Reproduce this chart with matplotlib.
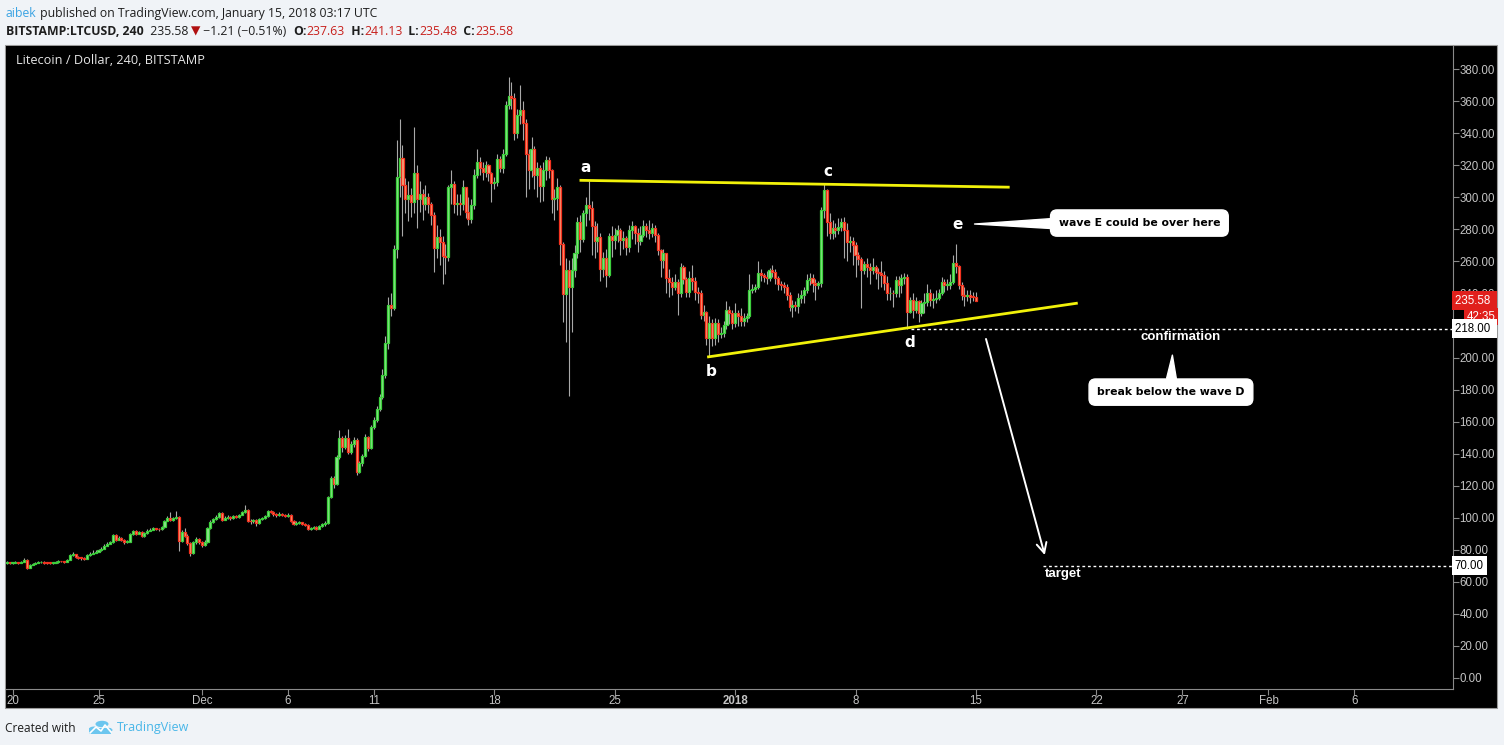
import datetime as dt
import matplotlib
matplotlib.use("Agg")
import matplotlib.pyplot as plt
import matplotlib.dates as mdates
from matplotlib.patches import Rectangle, Circle, FancyBboxPatch

# LTCUSD Bitstamp, 4h candles, first candle opens 2017-11-19 16:00
first_open = 71.5

closes = [
    72.0, 71.5,                                   # Nov 19 (16h, 20h)
    71.8, 72.0, 71.6, 72.3, 73.5, 68.6,           # Nov 20
    70.5, 71.2, 71.8, 72.0, 72.4, 71.9,           # Nov 21
    71.8, 71.6, 71.7, 72.0, 72.8, 72.6,           # Nov 22
    72.4, 73.8, 76.7, 77.0, 75.2, 74.8,           # Nov 23
    74.6, 74.2, 76.5, 77.5, 78.2, 78.8,           # Nov 24
    79.5, 80.5, 82.5, 83.8, 84.5, 89.2,           # Nov 25
    86.2, 87.5, 86.0, 84.8, 85.0, 89.5,           # Nov 26
    91.5, 90.0, 91.2, 88.5, 90.5, 91.8,           # Nov 27
    92.5, 93.2, 93.0, 92.6, 94.0, 98.0,           # Nov 28
    100.0, 98.5, 99.5, 100.3, 85.2, 91.0,         # Nov 29
    88.5, 84.0, 78.0, 84.5, 86.5, 84.5,           # Nov 30
    82.8, 84.5, 93.5, 97.5, 99.0, 100.2,          # Dec 1
    103.0, 98.8, 99.5, 100.5, 99.8, 100.8,        # Dec 2
    100.5, 101.8, 103.5, 104.8, 98.0, 97.6,       # Dec 3
    98.5, 96.5, 99.0, 99.8, 101.0, 104.3,         # Dec 4
    103.5, 102.0, 101.5, 102.3, 101.8, 101.2,     # Dec 5
    101.5, 98.0, 96.0, 96.8, 97.0, 96.2,          # Dec 6
    95.5, 92.8, 93.5, 94.2, 93.0, 94.5,           # Dec 7
    95.8, 96.5, 112.7, 124.6, 121.0, 137.7,       # Dec 8
    149.6, 144.0, 150.0, 141.2, 146.0, 148.5,     # Dec 9
    128.8, 134.0, 138.6, 150.2, 143.3, 156.8,     # Dec 10
    161.0, 168.0, 175.5, 189.0, 209.0, 232.7,     # Dec 11
    231.0, 267.7, 312.6, 324.5, 307.6, 299.0,     # Dec 12
    301.4, 297.2, 315.0, 299.3, 302.0, 296.2,     # Dec 13
    300.4, 296.0, 289.0, 268.7, 275.4, 272.3,     # Dec 14
    263.3, 262.9, 306.6, 308.6, 296.2, 296.5,     # Dec 15
    296.0, 306.6, 291.0, 286.8, 295.2, 313.9,     # Dec 16
    322.2, 318.7, 316.0, 320.1, 315.0, 309.1,     # Dec 17
    309.7, 324.3, 318.7, 327.4, 357.5, 363.2,     # Dec 18
    362.3, 340.3, 351.3, 354.5, 346.6, 327.0,     # Dec 19
    317.0, 330.5, 313.9, 318.1, 307.0, 317.0,     # Dec 20
    323.3, 317.0, 298.8, 299.5, 306.6, 270.8,     # Dec 21
    239.6, 254.5, 244.1, 254.5, 265.0, 284.7,     # Dec 22
    274.3, 290.0, 295.2, 293.7, 282.0, 272.9,     # Dec 23
    275.0, 255.6, 262.0, 251.5, 275.8, 273.7,     # Dec 24
    276.4, 279.5, 273.3, 274.5, 269.1, 279.5,     # Dec 25
    282.0, 277.9, 272.9, 276.4, 282.0, 279.5,     # Dec 26
    277.9, 280.6, 276.4, 267.0, 260.8, 265.0,     # Dec 27
    249.4, 247.3, 244.2, 247.3, 240.0, 256.3,     # Dec 28
    248.8, 241.0, 249.4, 248.0, 241.0, 240.5,     # Dec 29
    226.5, 228.6, 211.9, 221.3, 211.9, 221.3,     # Dec 30
    215.0, 215.4, 220.3, 229.6, 227.6, 221.8,     # Dec 31
    227.6, 225.9, 222.8, 224.9, 225.9, 242.1,     # Jan 1
    243.1, 244.0, 252.5, 251.5, 250.5, 249.4,     # Jan 2
    254.6, 253.6, 249.4, 245.8, 245.2, 244.2,     # Jan 3
    239.0, 231.7, 232.7, 232.0, 236.9, 239.0,     # Jan 4
    242.1, 248.4, 249.4, 246.3, 245.2, 246.3,     # Jan 5
    292.0, 304.9, 284.8, 277.5, 280.6, 279.6,     # Jan 6
    281.7, 284.8, 279.6, 272.3, 273.0, 270.2,     # Jan 7
    263.9, 261.8, 254.6, 258.7, 256.6, 254.6,     # Jan 8
    256.6, 253.5, 252.5, 251.5, 246.3, 240.0,     # Jan 9
    240.5, 240.0, 248.4, 245.2, 249.4, 250.5,     # Jan 10
    228.6, 236.0, 230.0, 235.0, 227.6, 233.8,     # Jan 11
    234.8, 240.0, 235.9, 236.3, 236.9, 240.0,     # Jan 12
    247.3, 245.2, 245.5, 247.3, 259.2, 257.0,     # Jan 13
    245.2, 239.0, 238.4, 239.0, 238.0, 237.63,    # Jan 14
    235.58,                                       # Jan 15
]

highs = [
    72.8, 72.4,
    72.3, 72.6, 72.4, 72.8, 74.5, 74.0,
    71.0, 71.8, 72.4, 72.8, 73.0, 72.6,
    72.4, 72.2, 72.3, 72.6, 73.6, 73.2,
    73.2, 74.4, 77.2, 78.4, 77.4, 75.8,
    75.4, 75.2, 77.0, 78.4, 79.6, 79.8,
    80.4, 81.4, 83.4, 84.6, 85.4, 90.0,
    89.8, 88.4, 88.0, 86.6, 86.0, 90.2,
    92.2, 92.0, 91.8, 91.6, 91.2, 92.6,
    93.2, 94.0, 93.8, 93.6, 94.8, 98.8,
    101.0, 103.8, 100.6, 104.0, 101.0, 92.4,
    93.5, 89.6, 84.8, 85.4, 88.2, 87.2,
    85.2, 85.8, 94.2, 98.2, 99.8, 101.4,
    103.8, 103.6, 100.8, 101.4, 101.2, 101.6,
    101.6, 102.4, 104.2, 108.0, 105.4, 99.4,
    99.4, 99.0, 99.8, 100.6, 101.8, 104.8,
    105.0, 104.2, 102.6, 103.2, 102.8, 102.4,
    102.8, 102.0, 98.8, 97.8, 97.8, 97.4,
    96.8, 96.0, 94.2, 95.0, 94.6, 95.2,
    96.6, 97.8, 113.8, 126.2, 126.0, 139.0,
    154.7, 150.8, 151.6, 155.5, 147.6, 150.6,
    149.8, 135.6, 139.6, 152.4, 151.0, 158.0,
    163.0, 169.6, 177.0, 193.0, 213.6, 238.0,
    240.6, 270.4, 335.7, 348.8, 333.0, 312.0,
    310.0, 306.0, 344.0, 320.0, 310.0, 305.0,
    308.0, 303.0, 297.0, 291.0, 283.0, 280.0,
    276.0, 271.0, 308.0, 317.0, 310.0, 302.0,
    302.0, 311.0, 306.0, 300.0, 299.0, 318.0,
    330.0, 325.0, 322.0, 323.0, 321.0, 316.0,
    313.0, 327.0, 326.0, 330.0, 360.0, 375.0,
    372.0, 365.0, 355.0, 370.0, 360.0, 349.0,
    330.0, 338.0, 332.0, 322.0, 320.0, 322.0,
    326.0, 325.0, 318.0, 305.0, 312.0, 308.0,
    272.0, 262.0, 261.0, 262.0, 270.0, 288.0,
    289.0, 292.0, 300.0, 310.0, 298.0, 285.0,
    284.0, 278.0, 266.0, 268.0, 278.0, 282.0,
    281.0, 283.0, 281.0, 279.0, 276.0, 283.0,
    285.0, 283.0, 281.0, 282.0, 286.0, 284.0,
    286.0, 284.0, 283.0, 278.0, 268.0, 268.0,
    263.0, 255.0, 250.0, 252.0, 249.0, 259.0,
    258.0, 250.0, 254.0, 258.0, 250.0, 244.0,
    242.0, 233.0, 229.0, 226.0, 224.0, 225.0,
    224.0, 219.0, 223.0, 235.0, 232.0, 230.0,
    234.0, 230.0, 231.0, 228.0, 228.0, 252.0,
    246.0, 246.0, 260.0, 255.0, 253.0, 254.0,
    256.0, 258.0, 255.0, 251.0, 248.0, 247.0,
    246.0, 241.0, 236.0, 235.0, 240.0, 242.0,
    244.0, 252.0, 253.0, 252.0, 249.0, 248.0,
    294.0, 308.3, 305.0, 290.0, 286.0, 284.0,
    287.0, 287.0, 288.0, 284.0, 276.0, 275.0,
    272.0, 266.0, 263.0, 260.0, 262.0, 259.0,
    262.0, 258.0, 256.0, 260.0, 254.0, 251.0,
    244.0, 242.0, 251.0, 251.0, 252.0, 253.0,
    252.0, 238.0, 240.0, 238.0, 236.0, 236.0,
    240.0, 246.0, 243.0, 240.0, 242.0, 243.0,
    250.0, 249.0, 249.0, 252.0, 264.0, 270.8,
    258.0, 247.0, 244.0, 242.0, 242.0, 241.0,
    241.13,
]

lows = [
    71.3, 71.0,
    71.0, 71.4, 71.2, 71.4, 72.0, 68.0,
    68.3, 70.2, 70.9, 71.4, 71.6, 71.2,
    71.2, 71.0, 71.1, 71.4, 71.8, 72.0,
    71.8, 72.2, 73.4, 75.8, 74.6, 74.0,
    73.8, 73.6, 74.0, 76.2, 77.4, 78.0,
    78.4, 79.2, 80.2, 82.2, 83.4, 84.0,
    85.4, 85.8, 85.2, 83.6, 84.0, 84.6,
    89.2, 89.4, 89.6, 88.0, 88.2, 90.0,
    91.4, 92.0, 92.2, 91.6, 92.4, 93.6,
    97.6, 97.8, 98.0, 99.0, 79.4, 84.6,
    87.6, 83.2, 76.3, 77.4, 83.6, 83.6,
    81.6, 82.4, 84.2, 92.6, 96.8, 98.4,
    99.8, 98.0, 98.2, 99.2, 98.6, 99.4,
    99.6, 100.0, 101.4, 103.0, 97.2, 96.0,
    96.8, 95.0, 96.2, 98.4, 99.4, 100.6,
    102.6, 101.2, 100.6, 101.0, 100.8, 100.4,
    100.4, 97.2, 95.2, 95.4, 95.8, 95.4,
    94.6, 92.0, 92.2, 93.0, 92.4, 92.6,
    94.0, 95.0, 96.0, 112.0, 118.4, 120.6,
    136.5, 140.8, 142.6, 139.6, 140.0, 144.0,
    126.4, 127.6, 132.0, 137.6, 141.6, 142.8,
    155.2, 159.6, 166.6, 173.8, 187.4, 205.2,
    226.0, 229.4, 262.0, 300.0, 276.0, 290.0,
    285.0, 288.0, 290.0, 281.0, 291.0, 286.0,
    292.0, 290.0, 283.0, 253.5, 262.0, 258.0,
    246.0, 252.0, 260.0, 296.0, 290.0, 289.0,
    289.0, 292.0, 287.0, 283.0, 284.0, 293.0,
    312.0, 314.0, 311.0, 313.0, 310.0, 297.0,
    305.0, 307.0, 316.0, 315.0, 326.0, 355.0,
    355.0, 336.0, 337.0, 346.0, 336.0, 300.0,
    305.0, 313.0, 305.0, 300.0, 297.0, 298.0,
    311.0, 312.0, 290.0, 286.0, 292.0, 258.0,
    222.0, 210.0, 176.0, 216.0, 250.0, 262.0,
    266.0, 272.0, 282.0, 286.0, 264.0, 262.0,
    266.0, 248.0, 250.0, 244.0, 250.0, 263.0,
    268.0, 272.0, 264.0, 268.0, 264.0, 266.0,
    274.0, 271.0, 266.0, 270.0, 275.0, 275.0,
    274.0, 275.0, 272.0, 264.0, 250.0, 256.0,
    240.0, 238.0, 239.0, 242.0, 226.5, 238.0,
    246.0, 238.0, 238.0, 242.0, 236.0, 234.0,
    224.0, 223.0, 208.0, 201.0, 207.0, 208.0,
    210.0, 212.0, 213.0, 218.0, 221.0, 218.0,
    219.0, 220.0, 220.0, 220.0, 222.0, 225.0,
    240.0, 241.0, 243.0, 248.0, 247.0, 246.0,
    248.0, 250.0, 246.0, 242.0, 242.0, 240.0,
    236.0, 229.0, 225.5, 229.0, 228.0, 234.0,
    234.0, 240.0, 245.0, 241.0, 236.0, 243.0,
    244.0, 287.0, 276.0, 274.0, 274.0, 275.0,
    277.0, 279.0, 262.0, 260.0, 266.0, 258.0,
    250.0, 258.0, 231.0, 252.0, 250.0, 246.0,
    252.0, 249.0, 243.0, 244.0, 242.0, 236.0,
    236.0, 231.7, 238.0, 238.0, 240.0, 246.0,
    218.0, 228.0, 225.0, 228.0, 222.0, 226.0,
    228.0, 232.0, 232.0, 231.0, 234.0, 236.0,
    239.0, 241.0, 242.0, 243.0, 246.0, 253.0,
    243.0, 236.0, 232.0, 235.0, 234.0, 235.0,
    235.48,
]

# time axis labels
tick_dates = [dt.datetime(2017, 11, 20), dt.datetime(2017, 11, 25), dt.datetime(2017, 12, 1),
              dt.datetime(2017, 12, 6), dt.datetime(2017, 12, 11), dt.datetime(2017, 12, 18),
              dt.datetime(2017, 12, 25), dt.datetime(2018, 1, 1), dt.datetime(2018, 1, 8),
              dt.datetime(2018, 1, 15), dt.datetime(2018, 1, 22), dt.datetime(2018, 1, 27),
              dt.datetime(2018, 2, 1), dt.datetime(2018, 2, 6)]
tick_labels = ["20", "25", "Dec", "6", "11", "18", "25", "2018", "8", "15", "22", "27", "Feb", "6"]
price_ticks = list(range(0, 381, 20))

# drawings on the chart: (time, price)
upper_line = [(dt.datetime(2017, 12, 22, 23), 310.7), (dt.datetime(2018, 1, 16, 23), 306.4)]
lower_line = [(dt.datetime(2017, 12, 30, 9), 200.3), (dt.datetime(2018, 1, 20, 22), 234.0)]
wave_labels = [("a", dt.datetime(2017, 12, 23, 8), 319.0),
               ("b", dt.datetime(2017, 12, 30, 14), 191.0),
               ("c", dt.datetime(2018, 1, 6, 10), 316.0),
               ("d", dt.datetime(2018, 1, 11, 3), 209.5),
               ("e", dt.datetime(2018, 1, 13, 22), 283.0)]
confirm_level = 218.0
target_level = 70.0

BG = "#f0f3f7"
GREEN_EDGE, GREEN_FILL = "#3ccf3c", "#8fe48f"
RED_EDGE, RED_FILL = "#f5321f", "#f7a07a"

W, H = 1504, 745
fig = plt.figure(figsize=(W / 100, H / 100), dpi=100, facecolor=BG)


def fx(px):
    return px / W


def fy(py):
    return 1 - py / H


def dnum(*args):
    return mdates.date2num(dt.datetime(*args))


# black chart panel, kept under the axes
fig.patches.append(Rectangle((fx(5), fy(708)), fx(1492), (708 - 45) / H,
                             transform=fig.transFigure, facecolor="black", edgecolor="#9a9a9a",
                             linewidth=0.8, zorder=-5))

ax = fig.add_axes([fx(6), fy(689), fx(1452.7 - 6), (689 - 46) / H], zorder=2)
ax.set_facecolor("black")

t0 = dt.datetime(2017, 11, 19, 16)
times = [mdates.date2num(t0 + dt.timedelta(hours=4 * i)) for i in range(len(closes))]
opens = [first_open] + closes[:-1]
opens[-1] = 237.63

bw = 4 / 24 * 0.72
for t, o, h, l, c in zip(times, opens, highs, lows, closes):
    up = c >= o
    ax.vlines(t, min(l, o, c), max(h, o, c), color="#a9a9a9", linewidth=0.8, zorder=1)
    ax.bar(t, max(abs(c - o), 0.5), bottom=min(o, c), width=bw,
           color=GREEN_FILL if up else RED_FILL,
           edgecolor=GREEN_EDGE if up else RED_EDGE, linewidth=0.9, zorder=2)

x0 = dnum(2017, 11, 20)
ax.set_xlim(x0 - 0.378, x0 + 83.71)
ax.set_ylim(-7.06, 394.6)

# triangle drawing and wave letters
ax.plot([mdates.date2num(p[0]) for p in upper_line], [p[1] for p in upper_line],
        color="#f2f20a", linewidth=2, zorder=4, solid_capstyle="butt")
ax.plot([mdates.date2num(p[0]) for p in lower_line], [p[1] for p in lower_line],
        color="#f2f20a", linewidth=2, zorder=4, solid_capstyle="butt")
for name, t, v in wave_labels:
    ax.text(mdates.date2num(t), v, name, color="white", fontsize=11, fontweight="bold",
            ha="center", va="center", family="DejaVu Sans", zorder=5)

# dotted levels
ax.hlines(confirm_level, dnum(2018, 1, 11, 6), ax.get_xlim()[1],
          color="white", linewidth=1, linestyles=(0, (2, 2)), zorder=4)
ax.hlines(target_level, dnum(2018, 1, 18, 21), ax.get_xlim()[1],
          color="white", linewidth=1, linestyles=(0, (2, 2)), zorder=4)

# projected drop arrow
ax.annotate("", xy=(dnum(2018, 1, 19, 0), 76.6), xytext=(dnum(2018, 1, 15, 14), 211.6),
            arrowprops=dict(arrowstyle="->", color="white", linewidth=1.4,
                            mutation_scale=18, shrinkA=0, shrinkB=0), zorder=5)
ax.text(dnum(2018, 1, 20, 2), 64.5, "target", color="white",
        fontsize=9.5, fontweight="bold", family="Liberation Sans", ha="center", va="center")
ax.text(dnum(2018, 1, 26, 22), 212.8, "confirmation", color="white",
        fontsize=9.5, fontweight="bold", family="Liberation Sans", ha="center", va="center")

# callouts
box = dict(boxstyle="round,pad=0.75,rounding_size=0.6", facecolor="white", edgecolor="white")
ax.annotate("wave E could be over here",
            xy=(dnum(2018, 1, 14, 22), 283.4), xytext=(dnum(2018, 1, 24, 12), 284.0),
            fontsize=7.8, fontweight="bold", family="DejaVu Sans", color="black",
            ha="center", va="center", bbox=box, zorder=6,
            arrowprops=dict(arrowstyle="wedge,tail_width=0.9", facecolor="white",
                            edgecolor="white", shrinkA=0, shrinkB=0))
ax.annotate("break below the wave D",
            xy=(dnum(2018, 1, 26, 10), 201.5), xytext=(dnum(2018, 1, 26, 8), 178.4),
            fontsize=7.8, fontweight="bold", family="DejaVu Sans", color="black",
            ha="center", va="center", bbox=box, zorder=6,
            arrowprops=dict(arrowstyle="wedge,tail_width=0.9", facecolor="white",
                            edgecolor="white", shrinkA=0, shrinkB=0))

# axes look
for side in ["top", "left"]:
    ax.spines[side].set_visible(False)
ax.spines["right"].set_color("#8a8a8a")
ax.spines["bottom"].set_color("#8a8a8a")
ax.yaxis.tick_right()
ax.set_yticks(price_ticks)
ax.set_yticklabels([f"{p:.2f}" for p in price_ticks])
ax.set_xticks([mdates.date2num(d) for d in tick_dates])
ax.set_xticklabels(tick_labels)
ax.tick_params(axis="both", colors="#8a8a8a", labelcolor="#c4c4c4", length=4, width=0.8,
               labelsize=8.3)
ax.tick_params(axis="y", pad=1)
ax.tick_params(axis="x", pad=0)
for lab in ax.get_xticklabels() + ax.get_yticklabels():
    lab.set_family("Liberation Sans")
ax.get_xticklabels()[7].set_fontweight("bold")

# price tags on the scale
ytr = ax.get_yaxis_transform()
ax.text(1.0015, 235.58, "235.58 ", transform=ytr, color="white", fontsize=8.3,
        family="Liberation Sans", va="center", ha="left", clip_on=False, zorder=7,
        bbox=dict(boxstyle="square,pad=0.28", facecolor="#e0201c", edgecolor="none"))
ax.text(1.0295, 225.6, "42:35", transform=ytr, color="white", fontsize=8.3,
        family="Liberation Sans", va="center", ha="right", clip_on=False, zorder=7,
        bbox=dict(boxstyle="square,pad=0.22", facecolor="#e0201c", edgecolor="none"))
ax.text(1.0015, confirm_level, "218.00 ", transform=ytr, color="black", fontsize=8.3,
        family="Liberation Sans", va="center", ha="left", clip_on=False, zorder=7,
        bbox=dict(boxstyle="square,pad=0.28", facecolor="white", edgecolor="none"))
ax.text(1.0015, target_level, "70.00", transform=ytr, color="black", fontsize=8.3,
        family="Liberation Sans", va="center", ha="left", clip_on=False, zorder=7,
        bbox=dict(boxstyle="square,pad=0.28", facecolor="white", edgecolor="none"))

# header, footer and chart title live on a figure-sized helper axes
hdr = fig.add_axes([0, 0, 1, 1], zorder=-1)
hdr.set_xlim(0, 1)
hdr.set_ylim(0, 1)
hdr.set_autoscale_on(False)
hdr.axis("off")

fig.text(fx(16), fy(60), "Litecoin / Dollar, 240, BITSTAMP", color="#e6e6e6", fontsize=9.2,
         family="Open Sans", va="center", zorder=10)


def chain(pieces, x, y, size):
    txt, color, weight = pieces[0]
    prev = hdr.text(fx(x), fy(y), txt, color=color, fontweight=weight, fontsize=size,
                    family=["Open Sans", "DejaVu Sans"], va="bottom", transform=hdr.transAxes)
    for txt, color, weight in pieces[1:]:
        prev = hdr.annotate(txt, xy=(1, 0), xycoords=prev, va="bottom", ha="left",
                            color=color, fontweight=weight, fontsize=size,
                            family=["Open Sans", "DejaVu Sans"])
    return prev


DARK, RED, BLUE = "#1e1e1e", "#c8201c", "#3aa3e3"
chain([("aibek", BLUE, "normal"),
       (" published on TradingView.com, January 15, 2018 03:17 UTC", DARK, "normal")], 6, 20, 8.8)
chain([("BITSTAMP:LTCUSD, 240", DARK, "bold"), ("  235.58 ", DARK, "normal"),
       ("▼", "#b01010", "normal"), (" \u22121.21 (\u22120.51%)  ", DARK, "normal"),
       ("O:", DARK, "bold"), ("237.63", RED, "normal"), ("  H:", DARK, "bold"),
       ("241.13", RED, "normal"), ("  L:", DARK, "bold"), ("235.48", RED, "normal"),
       ("  C:", DARK, "bold"), ("235.58", RED, "normal")], 6, 38, 8.8)

hdr.text(fx(5), fy(728), "Created with", color=DARK, fontsize=8.6, family="Open Sans",
         va="center", transform=hdr.transAxes)
hdr.text(fx(117), fy(728), "TradingView", color="#48b6e8", fontsize=9, family="Open Sans",
         va="center", transform=hdr.transAxes)
# small cloud logo
for cx, cy, r in [(94, 729, 5), (102, 724, 6.5), (108, 730, 4.5)]:
    hdr.add_patch(Circle((fx(cx), fy(cy)), r / W, transform=fig.transFigure,
                         facecolor="#6cc6ef", edgecolor="none"))
hdr.add_patch(FancyBboxPatch((fx(89), fy(734)), 22 / W, 6 / H, boxstyle="round,pad=0",
                             transform=fig.transFigure, facecolor="#6cc6ef", edgecolor="none"))
hdr.plot([fx(90), fx(96), fx(101), fx(105), fx(111)],
         [fy(733), fy(727), fy(731), fy(725), fy(732)],
         transform=fig.transFigure, color="white", linewidth=1.2)

fig.savefig("out.png", dpi=100, facecolor=BG)
